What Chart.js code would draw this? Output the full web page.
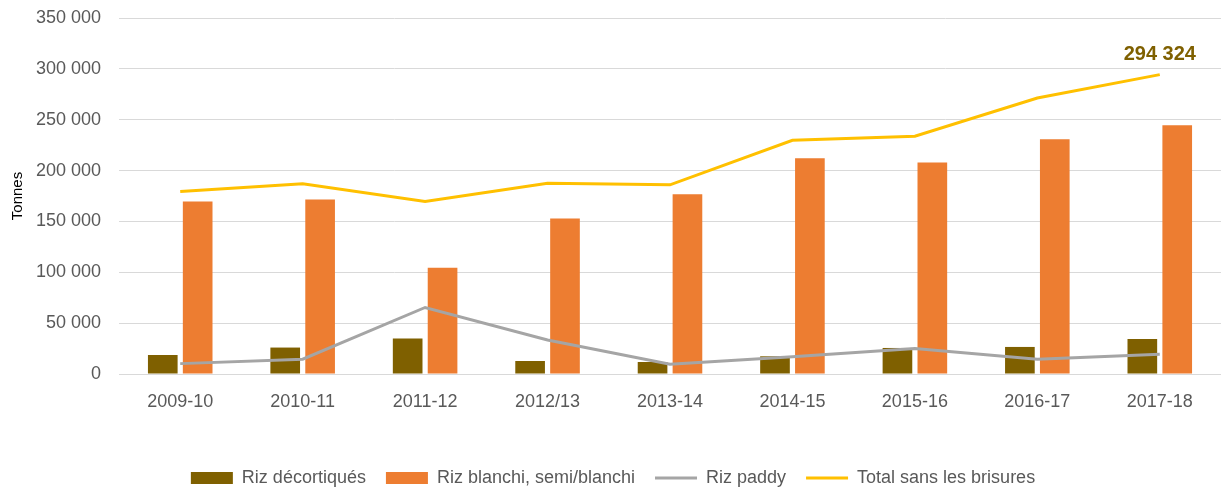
<!DOCTYPE html>
<html>
<head>
<meta charset="utf-8">
<script src="https://cdn.jsdelivr.net/npm/chart.js@4/dist/chart.umd.min.js"></script>
<style>
  html, body { margin: 0; padding: 0; background: #fff; }
  #wrap { width: 1221px; height: 490px; }
</style>
</head>
<body>
<div id="wrap"><canvas id="chart"></canvas></div>
<script>
// Campaigns (x axis)
const campagnes = ["2009-10", "2010-11", "2011-12", "2012/13", "2013-14", "2014-15", "2015-16", "2016-17", "2017-18"];

// Tonnes
const rizDecortiques = [18700, 26000, 34800, 12800, 11800, 17400, 25600, 26600, 34500];
const rizBlanchi = [169600, 171500, 104500, 152800, 176800, 212000, 208000, 230700, 244500];
const rizPaddy = [10200, 14500, 65400, 33500, 9500, 17000, 25000, 14500, 19400];
const totalSansBrisures = [179400, 187000, 169600, 187600, 186000, 229700, 233700, 271400, 294324];

const yTicks = [0, 50000, 100000, 150000, 200000, 250000, 300000, 350000];

const fmt = v => String(Math.round(v)).replace(/\B(?=(\d{3})+(?!\d))/g, " ");

// label over the last point of the total line
const lastValueLabel = {
    id: 'lastValueLabel',
    afterDatasetsDraw(chart) {
        const meta = chart.getDatasetMeta(3);
        const pt = meta.data[meta.data.length - 1];
        const ctx = chart.ctx;
        ctx.save();
        ctx.font = "bold 20px 'Liberation Sans', Arial, sans-serif";
        ctx.fillStyle = "#7F6000";
        ctx.textAlign = "center";
        ctx.textBaseline = "middle";
        ctx.fillText(fmt(totalSansBrisures[totalSansBrisures.length - 1]), pt.x, pt.y - 20);
        ctx.restore();
    }
};

Chart.defaults.font.family = "'Liberation Sans', Arial, sans-serif";
Chart.defaults.color = "#595959";

new Chart(document.getElementById('chart').getContext('2d'), {
    type: 'bar',
    data: {
        labels: campagnes,
        datasets: [
            {
                label: "Riz décortiqués",
                data: rizDecortiques,
                backgroundColor: "#7F6000",
                borderWidth: 0,
                pointStyle: 'rect',
                order: 2
            },
            {
                label: "Riz blanchi, semi/blanchi",
                data: rizBlanchi,
                backgroundColor: "#ED7D31",
                borderWidth: 0,
                pointStyle: 'rect',
                order: 2
            },
            {
                type: 'line',
                label: "Riz paddy",
                data: rizPaddy,
                borderColor: "#A5A5A5",
                backgroundColor: "#A5A5A5",
                borderWidth: 3,
                pointRadius: 0,
                pointStyle: 'line',
                tension: 0,
                order: 1
            },
            {
                type: 'line',
                label: "Total sans les brisures",
                data: totalSansBrisures,
                borderColor: "#FFC000",
                backgroundColor: "#FFC000",
                borderWidth: 3,
                pointRadius: 0,
                pointStyle: 'line',
                tension: 0,
                order: 0
            }
        ]
    },
    options: {
        responsive: true,
        maintainAspectRatio: false,
        animation: false,
        datasets: {
            bar: { categoryPercentage: 0.57, barPercentage: 0.85 }
        },
        layout: { padding: { top: 18, left: 5, right: 0, bottom: -7 } },
        plugins: {
            legend: {
                position: 'bottom',
                labels: {
                    usePointStyle: true,
                    pointStyleWidth: 42,
                    boxHeight: 12,
                    padding: 20,
                    color: "#595959",
                    font: { size: 18 },
                    sort: (a, b) => a.datasetIndex - b.datasetIndex
                }
            },
            tooltip: { enabled: false }
        },
        scales: {
            x: {
                grid: { display: false, drawTicks: false },
                border: { display: true, color: "#D9D9D9", width: 1 },
                ticks: { padding: 17, font: { size: 18 }, color: "#595959", maxRotation: 0 },
                afterFit: s => { s.height = 75; }
            },
            y: {
                min: 0,
                max: 350000,
                afterBuildTicks: s => { s.ticks = yTicks.map(v => ({ value: v })); },
                grid: { color: "#D9D9D9", lineWidth: 1, drawTicks: false },
                border: { display: false },
                ticks: { padding: 18, font: { size: 18 }, color: "#595959", callback: v => fmt(v) },
                title: { display: true, text: "Tonnes", color: "#000", font: { size: 15 } },
                afterFit: s => { s.width = 114; s.paddingTop = 0; }
            }
        }
    },
    plugins: [lastValueLabel]
});
</script>
</body>
</html>
